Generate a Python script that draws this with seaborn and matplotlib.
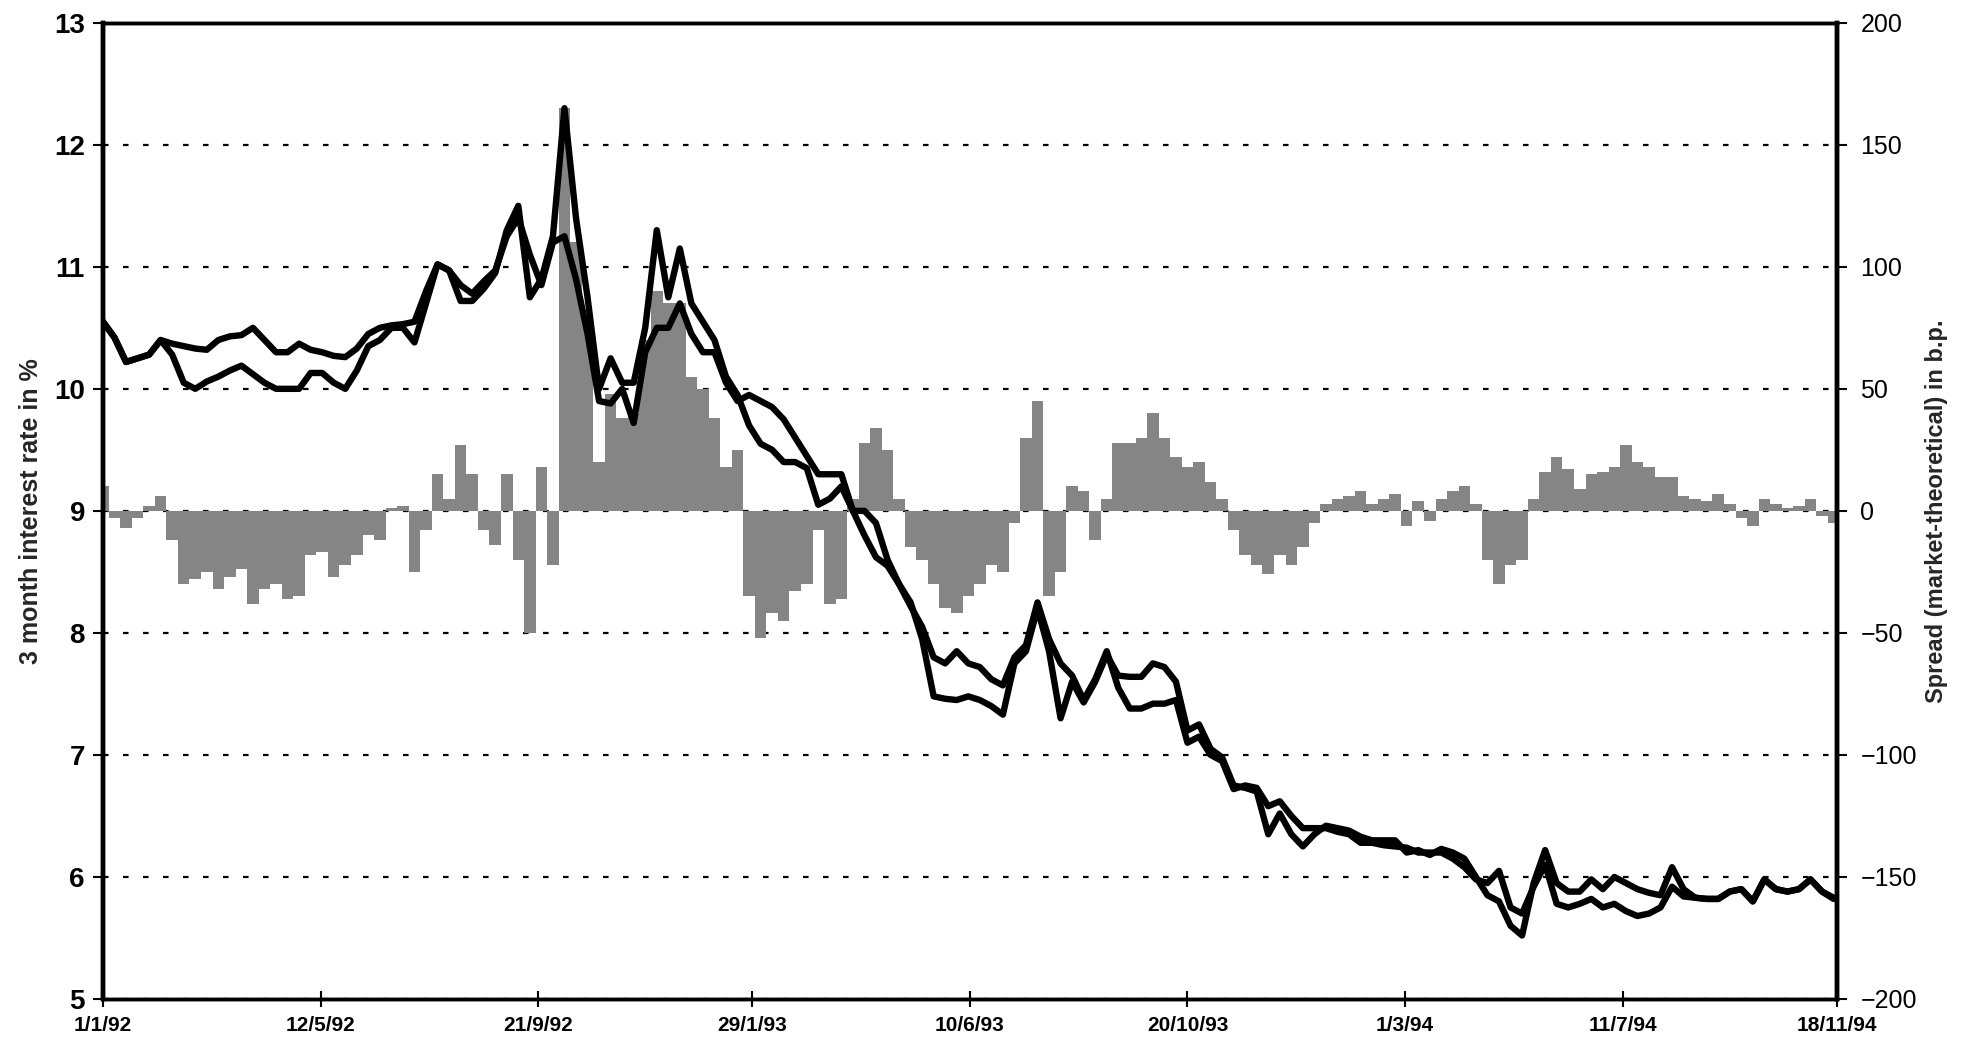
import numpy as np
import pandas as pd
import seaborn as sns
import matplotlib.pyplot as plt
import matplotlib.dates as mdates

sns.set_theme(style="white")
plt.rcParams['font.family'] = ['Liberation Sans Narrow', 'Liberation Sans', 'DejaVu Sans']

# weekly observations, 1/1/92 .. 16/11/94
dates = pd.date_range("1992-01-01", periods=151, freq="7D")

market = [
    10.55, 10.42, 10.22, 10.25, 10.28, 10.40, 10.28, 10.05, 10.00, 10.06,
    10.10, 10.15, 10.19, 10.12, 10.05, 10.00, 10.00, 10.00, 10.13, 10.13,
    10.05, 10.00, 10.15, 10.35, 10.40, 10.50, 10.50, 10.38, 10.70, 11.02,
    10.97, 10.72, 10.72, 10.82, 10.95, 11.30, 11.50, 10.75, 10.90, 11.25,
    12.30, 11.40, 10.75, 10.00, 10.25, 10.05, 10.05, 10.50, 11.30, 10.75,
    11.15, 10.70, 10.55, 10.40, 10.10, 9.95, 9.70, 9.55, 9.50, 9.40,
    9.40, 9.35, 9.05, 9.10, 9.20, 9.00, 9.00, 8.90, 8.60, 8.40,
    8.25, 7.95, 7.48, 7.46, 7.45, 7.48, 7.45, 7.40, 7.33, 7.75,
    7.85, 8.20, 7.85, 7.30, 7.60, 7.43, 7.60, 7.82, 7.65, 7.64,
    7.64, 7.75, 7.72, 7.60, 7.20, 7.25, 7.05, 6.98, 6.75, 6.73,
    6.70, 6.35, 6.52, 6.35, 6.25, 6.35, 6.42, 6.40, 6.38, 6.33,
    6.30, 6.30, 6.30, 6.20, 6.22, 6.18, 6.23, 6.20, 6.15, 6.00,
    5.85, 5.80, 5.60, 5.52, 5.95, 6.22, 5.95, 5.88, 5.88, 5.98,
    5.90, 6.00, 5.95, 5.90, 5.87, 5.85, 6.08, 5.90, 5.83, 5.82,
    5.82, 5.88, 5.90, 5.80, 5.98, 5.90, 5.88, 5.90, 5.98, 5.88,
    5.82]

theoretical = [
    10.55, 10.42, 10.22, 10.25, 10.28, 10.40, 10.37, 10.35, 10.33, 10.32,
    10.40, 10.43, 10.44, 10.50, 10.40, 10.30, 10.30, 10.37, 10.32, 10.30,
    10.27, 10.26, 10.33, 10.45, 10.50, 10.52, 10.53, 10.55, 10.80, 11.02,
    10.97, 10.85, 10.78, 10.88, 10.97, 11.25, 11.40, 11.10, 10.85, 11.20,
    11.25, 10.90, 10.45, 9.90, 9.88, 10.00, 9.72, 10.30, 10.50, 10.50,
    10.70, 10.45, 10.30, 10.30, 10.05, 9.90, 9.95, 9.90, 9.85, 9.75,
    9.60, 9.45, 9.30, 9.30, 9.30, 9.00, 8.80, 8.62, 8.55, 8.40,
    8.22, 8.05, 7.80, 7.75, 7.85, 7.75, 7.72, 7.62, 7.57, 7.80,
    7.90, 8.25, 7.95, 7.75, 7.65, 7.45, 7.62, 7.85, 7.55, 7.38,
    7.38, 7.42, 7.42, 7.45, 7.10, 7.15, 7.00, 6.95, 6.72, 6.75,
    6.73, 6.58, 6.62, 6.50, 6.40, 6.40, 6.40, 6.37, 6.35, 6.28,
    6.28, 6.26, 6.25, 6.24, 6.20, 6.20, 6.20, 6.15, 6.08, 5.98,
    5.95, 6.05, 5.75, 5.70, 5.92, 6.10, 5.78, 5.75, 5.78, 5.82,
    5.75, 5.78, 5.72, 5.68, 5.70, 5.75, 5.92, 5.84, 5.83, 5.82,
    5.82, 5.88, 5.90, 5.80, 5.98, 5.90, 5.88, 5.90, 5.98, 5.88,
    5.83]

# spread market - theoretical, basis points
spread = [
    10, -3, -7, -3, 2, 6, -12, -30, -28, -25,
    -32, -27, -24, -38, -32, -30, -36, -35, -18, -17,
    -27, -22, -18, -10, -12, 1, 2, -25, -8, 15,
    5, 27, 15, -8, -14, 15, -20, -50, 18, -22,
    165, 110, 80, 20, 48, 38, 40, 70, 90, 85,
    85, 55, 50, 38, 18, 25, -35, -52, -42, -45,
    -33, -30, -8, -38, -36, 5, 28, 34, 25, 5,
    -15, -20, -30, -40, -42, -35, -30, -22, -25, -5,
    30, 45, -35, -25, 10, 8, -12, 5, 28, 28,
    30, 40, 30, 22, 18, 20, 12, 5, -8, -18,
    -22, -26, -18, -22, -15, -5, 3, 5, 6, 8,
    3, 5, 7, -6, 4, -4, 5, 8, 10, 3,
    -20, -30, -22, -20, 5, 16, 22, 17, 9, 15,
    16, 18, 27, 20, 18, 14, 14, 6, 5, 4,
    7, 3, -3, -6, 5, 3, 1, 2, 5, -2,
    -5]

tick_dates = pd.to_datetime(["1992-01-01", "1992-05-12", "1992-09-21", "1993-01-29",
                             "1993-06-10", "1993-10-20", "1994-03-01", "1994-07-11",
                             "1994-11-18"])
tick_labels = ["1/1/92", "12/5/92", "21/9/92", "29/1/93", "10/6/93",
               "20/10/93", "1/3/94", "11/7/94", "18/11/94"]

fig = plt.figure(figsize=(19.65, 10.43), dpi=100)
ax = fig.add_axes([0.0524, 0.0422, 0.8824, 0.936])
ax2 = ax.twinx()

# spread bars (right axis), behind the rate lines
ax2.bar(dates, spread, width=7, color="#858585", linewidth=0)
ax2.set_ylim(-200, 200)
ax2.set_yticks(range(-200, 201, 50))
ax2.yaxis.grid(True, linestyle=(0, (2.5, 6.5)), color="black", linewidth=1.6)
ax2.set_axisbelow(True)

sns.lineplot(x=dates, y=theoretical, ax=ax, color="black", linewidth=4.6)
sns.lineplot(x=dates, y=market, ax=ax, color="black", linewidth=4.6)
ax.set_zorder(ax2.get_zorder() + 1)
ax.patch.set_visible(False)

ax.set_ylim(5, 13)
ax.set_yticks(range(5, 14))
ax.set_xlim(tick_dates[0], tick_dates[-1])
ax.set_xticks(tick_dates)
ax.set_xticklabels(tick_labels)
ax.grid(False)

for a in (ax, ax2):
    for side in ("top", "bottom"):
        a.spines[side].set_linewidth(2.5)
        a.spines[side].set_color("black")
    for side in ("left", "right"):
        a.spines[side].set_linewidth(3.2)
        a.spines[side].set_color("black")

ax.tick_params(axis="y", direction="out", length=7, width=1.5, pad=6, labelsize=20,
               left=True, colors="black")
ax.tick_params(axis="x", direction="inout", length=12, width=1.5, pad=6, labelsize=15,
               bottom=True, colors="black")
for t in ax.get_yticklabels() + ax.get_xticklabels():
    t.set_fontweight("bold")

ax2.tick_params(axis="y", direction="out", length=7, width=1.5, pad=10, labelsize=18,
                right=True, colors="black")
for t in ax2.get_yticklabels():
    t.set_family(["Liberation Sans", "DejaVu Sans"])

ax.set_xlabel("")
ax.set_ylabel("3 month interest rate in %", fontsize=18, fontweight="bold", labelpad=8)
ax2.set_ylabel("Spread (market-theoretical) in b.p.", fontsize=17, fontweight="bold",
               labelpad=6, rotation=90)

fig.savefig("out.png", dpi=100)
